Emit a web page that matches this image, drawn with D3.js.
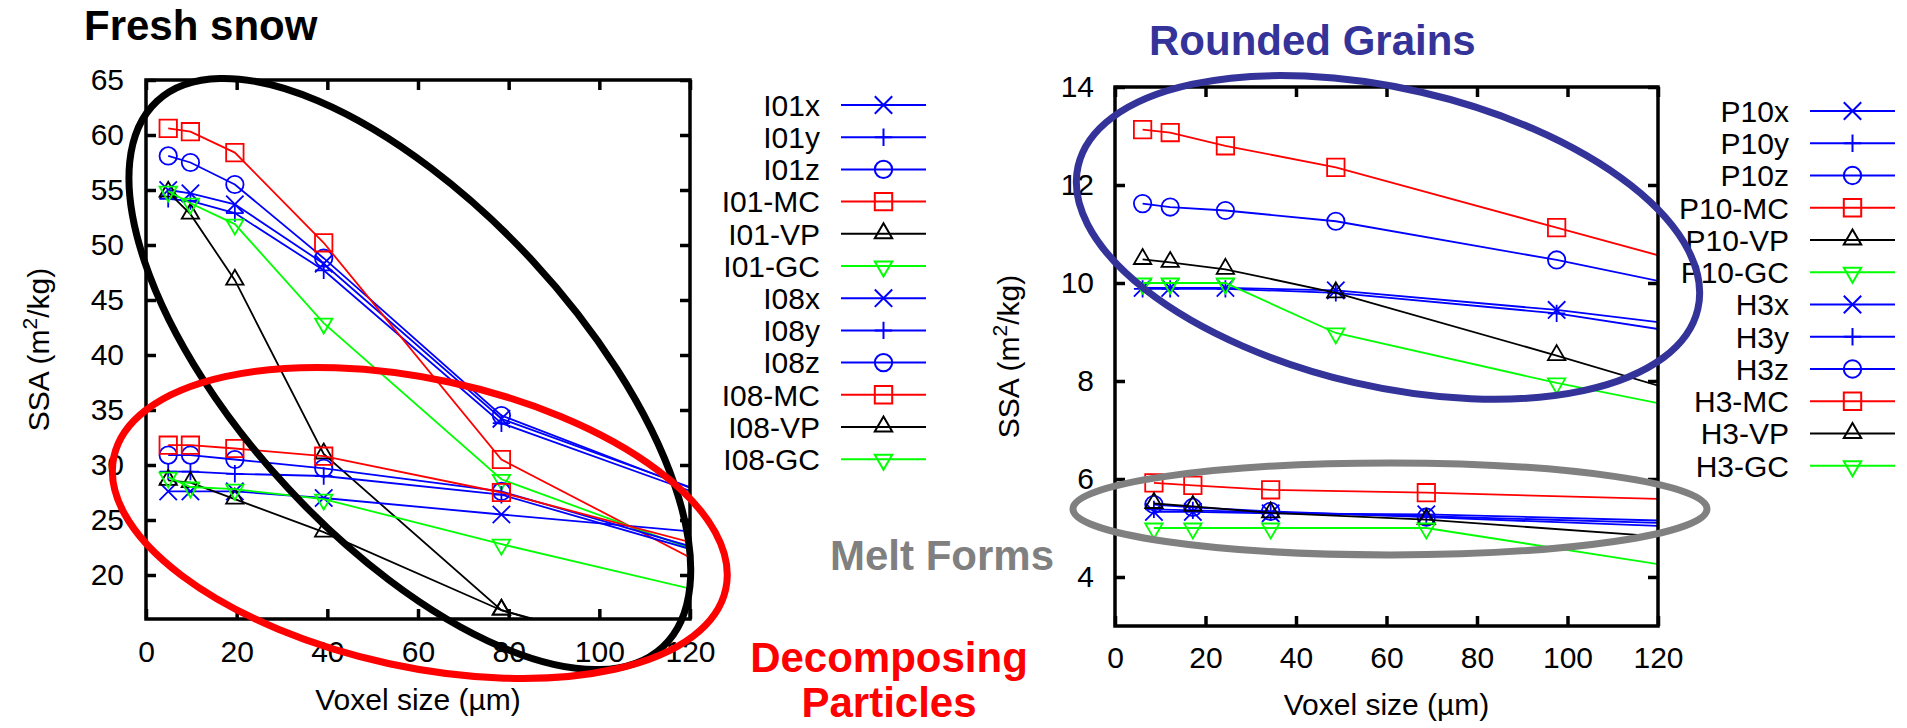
<!DOCTYPE html>
<html>
<head>
<meta charset="utf-8">
<script src="https://cdn.jsdelivr.net/npm/d3@7"></script>
<style>
  body { margin: 0; background: #fff; }
  svg text { font-family: "Liberation Sans", Arial, Helvetica, sans-serif; }
</style>
</head>
<body>
<svg id="chart" width="1907" height="728"></svg>
<script>

// voxel sizes (µm); the last value of each set lies past 120 and gets clipped
const freshVoxel = [4.9, 9.8, 19.6, 39.2, 78.4, 156.8];
const freshNames = ["I01x", "I01y", "I01z", "I01-MC", "I01-VP", "I01-GC",
                    "I08x", "I08y", "I08z", "I08-MC", "I08-VP", "I08-GC"];
const freshSSA = [
    [55.0, 54.7, 53.7, 48.3, 34.2, 22.5],
    [54.2, 54.0, 52.9, 47.7, 33.8, 22.2],
    [58.1, 57.5, 55.5, 48.8, 34.5, 22.1],
    [60.6, 60.3, 58.4, 50.2, 30.5, 13.7],
    [54.8, 52.8, 46.8, 31.0, 16.8, 7.3],
    [54.9, 53.8, 51.9, 42.9, 28.7, 16.9],
    [27.6, 27.6, 27.6, 27.0, 25.5, 22.6],
    [29.4, 29.4, 29.2, 29.0, 27.3, 18.0],
    [30.9, 30.9, 30.5, 29.7, 27.6, 18.2],
    [31.8, 31.8, 31.5, 30.8, 27.5, 19.0],
    [28.6, 28.4, 26.9, 23.9, 16.8, 8.0],
    [28.9, 28.0, 27.8, 26.9, 22.8, 15.2]
];

const roundedVoxel = [6.1, 12.2, 24.4, 48.8, 97.6, 195.2];
const roundedNames = ["P10x", "P10y", "P10z", "P10-MC", "P10-VP", "P10-GC"];
const roundedSSA = [
    [9.90, 9.90, 9.90, 9.85, 9.45, 8.36],
    [9.88, 9.88, 9.88, 9.80, 9.38, 7.99],
    [11.62, 11.55, 11.48, 11.26, 10.47, 8.61],
    [13.13, 13.07, 12.80, 12.36, 11.13, 8.67],
    [10.48, 10.42, 10.28, 9.80, 8.52, 5.84],
    [10.00, 10.00, 10.00, 8.98, 7.96, 6.17]
];

const meltVoxel = [8.6, 17.2, 34.4, 68.8, 137.6];
const meltNames = ["H3x", "H3y", "H3z", "H3-MC", "H3-VP", "H3-GC"];
const meltSSA = [
    [5.33, 5.33, 5.30, 5.28, 5.11],
    [5.38, 5.36, 5.32, 5.24, 5.06],
    [5.48, 5.42, 5.34, 5.22, 4.98],
    [5.92, 5.87, 5.78, 5.72, 5.55],
    [5.50, 5.44, 5.31, 5.17, 4.71],
    [5.00, 5.00, 5.00, 5.00, 4.01]
];

// x, y, z, MC, VP, GC
const markerTypes = ["times", "plus", "circle", "square", "triangle", "triangleDown"];
const markerColors = ["#0000ff", "#0000ff", "#0000ff", "#ff0000", "#000000", "#00ff00"];

const xTicks = [0, 20, 40, 60, 80, 100, 120];
const freshYTicks = [20, 25, 30, 35, 40, 45, 50, 55, 60, 65];
const roundedYTicks = [4, 6, 8, 10, 12, 14];

const svg = d3.select("#chart");

svg.append("rect")
    .attr("width", 1907)
    .attr("height", 728)
    .attr("fill", "white");

const FONT = 30;

function markerPath(type, r){
    switch(type){
        case "times":
            return `M${-r},${-r}L${r},${r}M${-r},${r}L${r},${-r}`;
        case "plus":
            return `M${-r},0L${r},0M0,${-r}L0,${r}`;
        case "circle":
            return `M${r},0A${r},${r} 0 1,1 ${-r},0A${r},${r} 0 1,1 ${r},0Z`;
        case "square":
            return `M${-r},${-r}H${r}V${r}H${-r}Z`;
        case "triangle":
            return `M0,${-1.2*r}L${r},${0.52*r}L${-r},${0.52*r}Z`;
        default:
            return `M0,${1.2*r}L${r},${-0.52*r}L${-r},${-0.52*r}Z`;
    }
}

function drawPanel(cfg){

    const x = cfg.x, y = cfg.y;
    const [left, right] = x.range();
    const [bottom, top] = y.range();

    svg.append("clipPath")
        .attr("id", cfg.id)
        .append("rect")
        .attr("x", left)
        .attr("y", top)
        .attr("width", right - left)
        .attr("height", bottom - top);

    // axes, ticks pointing inward, mirrored on top and right
    const axes = [
        [d3.axisBottom(x).tickValues(xTicks), `translate(0,${bottom})`, true],
        [d3.axisTop(x).tickValues(xTicks), `translate(0,${top})`, false],
        [d3.axisLeft(y).tickValues(cfg.yTicks), `translate(${left},0)`, true],
        [d3.axisRight(y).tickValues(cfg.yTicks), `translate(${right},0)`, false]
    ];

    axes.forEach(([axis, tr, labelled]) => {

        axis.tickSizeInner(-10)
            .tickSizeOuter(0)
            .tickPadding(labelled ? cfg.pad : 0);

        if(!labelled) axis.tickFormat("");

        const g = svg.append("g")
            .attr("transform", tr)
            .call(axis);

        g.select(".domain").remove();

        g.selectAll(".tick line")
            .attr("stroke", "#000")
            .attr("stroke-width", 3.5);

        g.selectAll(".tick text")
            .attr("fill", "#000")
            .style("font-size", FONT + "px");
    });

    // data
    const plot = svg.append("g")
        .attr("clip-path", `url(#${cfg.id})`);

    const line = d3.line()
        .x(d => x(d[0]))
        .y(d => y(d[1]));

    cfg.series.forEach(s => {

        const pts = s.voxel.map((v, i) => [v, s.values[i]]);

        plot.append("path")
            .datum(pts)
            .attr("d", line)
            .attr("fill", "none")
            .attr("stroke", s.color)
            .attr("stroke-width", 1.8);

        plot.selectAll(null)
            .data(pts)
            .enter()
            .append("path")
            .attr("transform", d => `translate(${x(d[0])},${y(d[1])})`)
            .attr("d", markerPath(s.type, 8.7))
            .attr("fill", "none")
            .attr("stroke", s.color)
            .attr("stroke-width", 1.8);
    });

    // frame
    svg.append("rect")
        .attr("x", left)
        .attr("y", top)
        .attr("width", right - left)
        .attr("height", bottom - top)
        .attr("fill", "none")
        .attr("stroke", "#000")
        .attr("stroke-width", 3.5);

    // axis titles
    svg.append("text")
        .attr("x", (left + right) / 2)
        .attr("y", bottom + cfg.xTitleGap)
        .attr("text-anchor", "middle")
        .style("font-size", FONT + "px")
        .text("Voxel size (\u00b5m)");

    const yt = svg.append("text")
        .attr("transform", `translate(${cfg.yTitleX},${(top + bottom) / 2}) rotate(-90)`)
        .attr("text-anchor", "middle")
        .style("font-size", FONT + "px");

    yt.append("tspan").text("SSA (m");
    yt.append("tspan").attr("dy", -12).style("font-size", "21px").text("2");
    yt.append("tspan").attr("dy", 12).text("/kg)");

    // legend
    const lg = svg.append("g");

    cfg.series.forEach((s, i) => {

        const ly = cfg.legendY + i * cfg.legendStep;

        lg.append("text")
            .attr("x", cfg.legendX)
            .attr("y", ly)
            .attr("dy", "0.36em")
            .attr("text-anchor", "end")
            .style("font-size", FONT + "px")
            .text(s.name);

        lg.append("line")
            .attr("x1", cfg.legendX + 21)
            .attr("x2", cfg.legendX + 106)
            .attr("y1", ly)
            .attr("y2", ly)
            .attr("stroke", s.color)
            .attr("stroke-width", 2);

        lg.append("path")
            .attr("transform", `translate(${cfg.legendX + 63.5},${ly})`)
            .attr("d", markerPath(s.type, 8.7))
            .attr("fill", "none")
            .attr("stroke", s.color)
            .attr("stroke-width", 2);
    });
}

// Left panel: fresh snow / decomposing particles
const xFresh = d3.scaleLinear().domain([0, 120]).range([146, 690]);
const yFresh = d3.scaleLinear().domain([16, 65]).range([619, 80]);

drawPanel({
    id: "clipFresh",
    x: xFresh,
    y: yFresh,
    yTicks: freshYTicks,
    pad: 22,
    xTitleGap: 91,
    yTitleX: 49,
    legendX: 820,
    legendY: 105,
    legendStep: 32.2,
    series: freshNames.map((name, i) => ({
        name: name,
        voxel: freshVoxel,
        values: freshSSA[i],
        type: markerTypes[i % 6],
        color: markerColors[i % 6]
    }))
});

// Right panel: rounded grains / melt forms
const xRound = d3.scaleLinear().domain([0, 120]).range([1115, 1658]);
const yRound = d3.scaleLinear().domain([3, 14]).range([626, 87]);

drawPanel({
    id: "clipRound",
    x: xRound,
    y: yRound,
    yTicks: roundedYTicks,
    pad: 21,
    xTitleGap: 89,
    yTitleX: 1019,
    legendX: 1789,
    legendY: 111,
    legendStep: 32.25,
    series: roundedNames.map((name, i) => ({
        name: name,
        voxel: roundedVoxel,
        values: roundedSSA[i],
        type: markerTypes[i],
        color: markerColors[i]
    })).concat(meltNames.map((name, i) => ({
        name: name,
        voxel: meltVoxel,
        values: meltSSA[i],
        type: markerTypes[i],
        color: markerColors[i]
    })))
});

// Hand-drawn ellipses round the groups (centre in data units, radii in px)
const rings = [
    {x: xFresh, y: yFresh, cx: 58.2, cy: 38.27, rx: 372, ry: 167, rot: 47.2, color: "#000000"},
    {x: xFresh, y: yFresh, cx: 60.4, cy: 24.73, rx: 313, ry: 144, rot: 12.2, color: "#ff0000"},
    {x: xRound, y: yRound, cx: 60.33, cy: 10.93, rx: 318, ry: 149, rot: 13, color: "#333399"},
    {x: xRound, y: yRound, cx: 60.77, cy: 5.39, rx: 317, ry: 46, rot: 0, color: "#808080"}
];

svg.selectAll(".ring")
    .data(rings)
    .enter()
    .append("ellipse")
    .attr("class", "ring")
    .attr("transform", d => `translate(${d.x(d.cx)},${d.y(d.cy)}) rotate(${d.rot})`)
    .attr("rx", d => d.rx)
    .attr("ry", d => d.ry)
    .attr("fill", "none")
    .attr("stroke", d => d.color)
    .attr("stroke-width", 7);

// Group names
const notes = [
    {text: "Fresh snow", x: 84, y: 40, anchor: "start", color: "#000000"},
    {text: "Rounded Grains", x: 1149, y: 55, anchor: "start", color: "#333399"},
    {text: "Melt Forms", x: 830, y: 570, anchor: "start", color: "#808080"},
    {text: "Decomposing", x: 889, y: 672, anchor: "middle", color: "#ff0000"},
    {text: "Particles", x: 889, y: 717, anchor: "middle", color: "#ff0000"}
];

svg.selectAll(".note")
    .data(notes)
    .enter()
    .append("text")
    .attr("class", "note")
    .attr("x", d => d.x)
    .attr("y", d => d.y)
    .attr("text-anchor", d => d.anchor)
    .attr("fill", d => d.color)
    .style("font-size", "42px")
    .style("font-weight", "bold")
    .text(d => d.text);

</script>
</body>
</html>
